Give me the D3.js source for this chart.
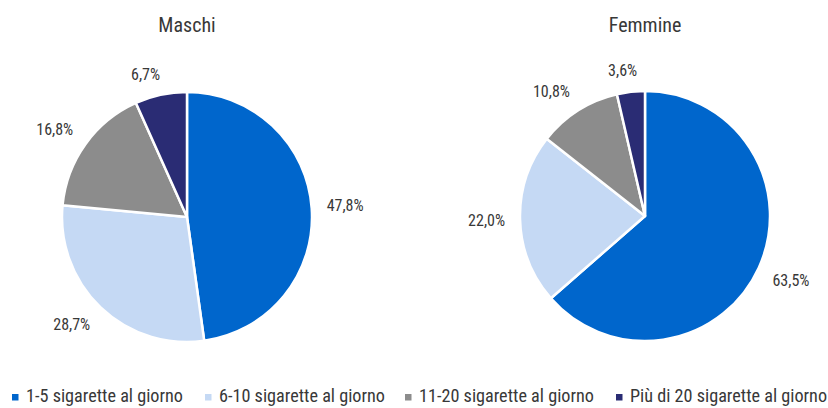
<!DOCTYPE html>
<html><head><meta charset="utf-8">
<script src="https://cdn.jsdelivr.net/npm/d3@7"></script>
<style>
body{margin:0;background:#fff;}
text{font-family:"Liberation Sans Narrow","Roboto Condensed","Arial Narrow",Roboto,sans-serif;fill:#383838;}
</style></head>
<body><svg id="c" width="828" height="408"></svg>
<script>
const categories = ["1-5 sigarette al giorno","6-10 sigarette al giorno","11-20 sigarette al giorno","Più di 20 sigarette al giorno"];
const colors = ["#0066cc","#c5d9f4","#8c8c8c","#2a2c74"];
const maschi = [47.8, 28.7, 16.8, 6.7];
const femmine = [63.5, 22.0, 10.8, 3.6];
const titles = ["Maschi","Femmine"];

const svg = d3.select("#c");
const fmt = v => d3.format(".1f")(v).replace(".", ",") + "%";
const pie = d3.pie().sort(null).value(d => d);
const R = 125;
const pad = 15;
const fs = 16;
const arc = d3.arc().innerRadius(0).outerRadius(R);
const clamp = t => Math.max(-1, Math.min(1, t));

function drawPie(cx, cy, vals, title){
  const g = svg.append("g").attr("transform", `translate(${cx},${cy})`);
  const arcs = pie(vals);
  g.selectAll("path").data(arcs).join("path")
    .attr("d", arc).attr("fill", (d,i) => colors[i])
    .attr("stroke", "#fff").attr("stroke-width", 2.5).attr("stroke-linejoin","round");
  g.selectAll("text.l").data(arcs).join("text").attr("class","l")
    .attr("text-anchor","middle").attr("dy","0.35em")
    .style("font-size", fs + "px").text(d => fmt(d.data))
    .each(function(d){
      const hw = this.getBBox().width / 2, hh = fs * 0.38;
      const a = (d.startAngle + d.endAngle) / 2;
      const ux = Math.sin(a), uy = -Math.cos(a);
      const x = (R + pad) * ux + hw * clamp(ux * 4);
      const y = (R + pad) * uy + hh * clamp(uy * 4);
      d3.select(this).attr("x", x).attr("y", y);
    });
  svg.append("text").attr("x", cx).attr("y", 32).attr("text-anchor","middle")
    .style("font-size","20px").text(title);
}
drawPie(187, 217, maschi, titles[0]);
drawPie(645, 216, femmine, titles[1]);

const legX = [12, 205, 405, 616];
const leg = svg.append("g");
categories.forEach((c,i) => {
  leg.append("rect").attr("x", legX[i]).attr("y", 394).attr("width", 6.5).attr("height", 6.5).attr("fill", colors[i]);
  leg.append("text").attr("x", legX[i] + 14).attr("y", 402)
    .style("font-size","18.2px").text(c);
});
</script></body></html>
